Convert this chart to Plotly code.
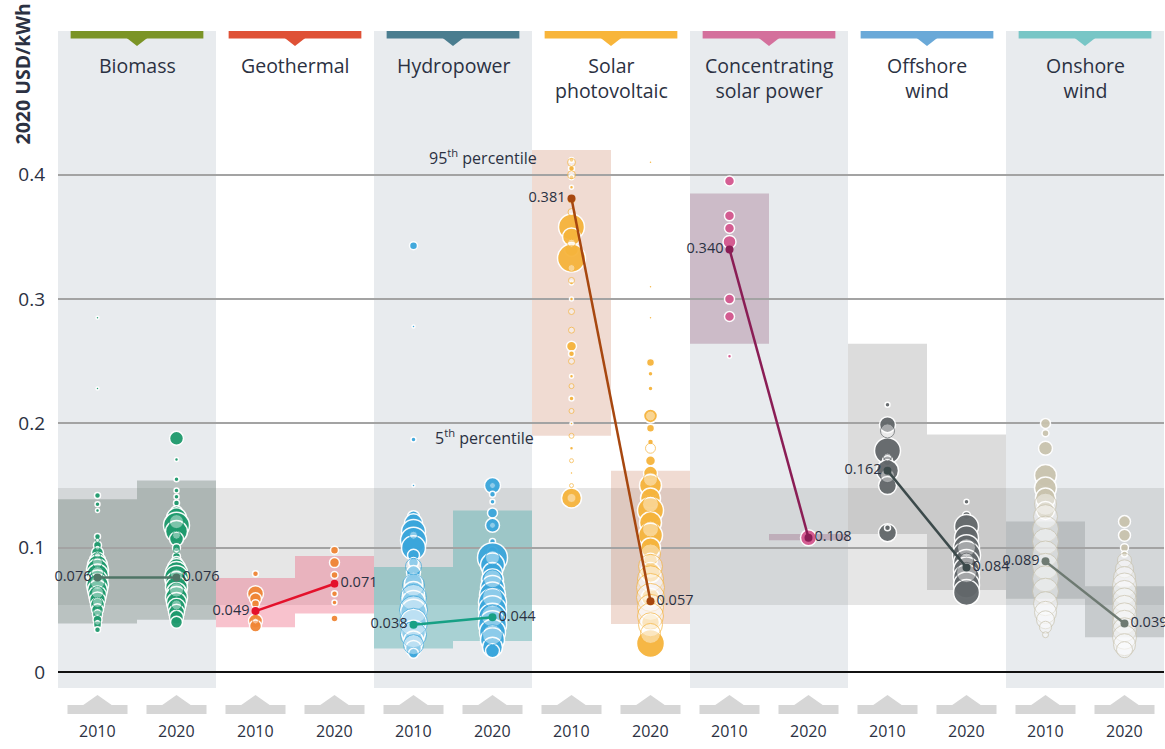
import plotly.graph_objects as go

# ---------------- data ----------------
tech_labels = ["Biomass", "Geothermal", "Hydropower", "Solar<br>photovoltaic",
               "Concentrating<br>solar power", "Offshore<br>wind", "Onshore<br>wind"]
year_labels = ["2010", "2020"]

avg_2010 = [0.076, 0.049, 0.038, 0.381, 0.340, 0.162, 0.089]
avg_2020 = [0.076, 0.071, 0.044, 0.057, 0.108, 0.084, 0.039]

p5_2010 = [0.039, 0.036, 0.019, 0.190, 0.264, 0.111, 0.059]
p95_2010 = [0.139, 0.0756, 0.0845, 0.420, 0.385, 0.264, 0.121]
p5_2020 = [0.042, 0.047, 0.025, 0.0386, 0.106, 0.066, 0.028]
p95_2020 = [0.154, 0.0933, 0.130, 0.162, 0.111, 0.191, 0.069]

fossil_low = 0.054
fossil_high = 0.148

# project bubbles: (LCOE, bubble diameter by capacity)
biomass_2010 = [(0.285, 3), (0.228, 3), (0.142, 6), (0.135, 5), (0.130, 4), (0.109, 6), (0.102, 8),
                (0.096, 12), (0.090, 16), (0.086, 20), (0.082, 22), (0.078, 22), (0.074, 20),
                (0.070, 22), (0.066, 20), (0.062, 18), (0.058, 16), (0.054, 14), (0.050, 12),
                (0.046, 10), (0.042, 9), (0.038, 8), (0.034, 6)]
biomass_2010_other = [(0.106, 4), (0.100, 5), (0.094, 6), (0.088, 10), (0.080, 12), (0.072, 14),
                      (0.064, 12), (0.056, 10), (0.048, 8), (0.040, 6)]
biomass_2020 = [(0.188, 14), (0.171, 4), (0.155, 5), (0.146, 5), (0.141, 5), (0.136, 6), (0.129, 12),
                (0.124, 20), (0.118, 26), (0.113, 22), (0.107, 14), (0.100, 8), (0.093, 8),
                (0.088, 12), (0.084, 18), (0.080, 22), (0.076, 24), (0.072, 22), (0.068, 22),
                (0.064, 20), (0.060, 22), (0.056, 20), (0.052, 18), (0.048, 16), (0.044, 14),
                (0.040, 12)]
biomass_2020_other = [(0.121, 14), (0.110, 8), (0.098, 6), (0.078, 12), (0.066, 14), (0.054, 10)]

geothermal_2010 = [(0.079, 6), (0.063, 16), (0.059, 12), (0.055, 8), (0.050, 6), (0.045, 6),
                   (0.041, 14), (0.037, 12)]
geothermal_2010_other = [(0.041, 6)]
geothermal_2020 = [(0.098, 8), (0.088, 10), (0.078, 7), (0.071, 7), (0.063, 6), (0.056, 5), (0.043, 7)]
geothermal_2020_other = []

hydro_2010 = [(0.343, 8), (0.278, 3), (0.187, 5), (0.150, 3), (0.125, 12), (0.120, 18), (0.113, 24),
              (0.106, 26), (0.100, 24), (0.094, 12), (0.088, 10), (0.080, 14), (0.072, 18),
              (0.064, 22), (0.056, 24), (0.048, 26), (0.040, 26), (0.032, 24), (0.025, 20),
              (0.019, 16), (0.015, 10)]
hydro_2010_other = [(0.110, 8), (0.085, 16), (0.070, 22), (0.060, 26), (0.050, 28), (0.040, 28),
                    (0.030, 26), (0.022, 20)]
hydro_2020 = [(0.150, 16), (0.143, 6), (0.137, 5), (0.128, 10), (0.118, 14), (0.105, 6), (0.097, 10),
              (0.092, 30), (0.086, 24), (0.080, 20), (0.074, 22), (0.068, 24), (0.062, 26),
              (0.056, 28), (0.050, 28), (0.044, 28), (0.038, 28), (0.032, 26), (0.026, 24),
              (0.020, 20), (0.017, 14)]
hydro_2020_other = [(0.150, 6), (0.118, 6), (0.092, 14), (0.075, 18), (0.060, 20), (0.045, 22),
                    (0.030, 20)]

solar_2010 = [(0.412, 5), (0.405, 6), (0.398, 5), (0.390, 4), (0.358, 26), (0.350, 18), (0.340, 14),
              (0.333, 28), (0.313, 4), (0.300, 4), (0.262, 10), (0.256, 6), (0.238, 4), (0.220, 5),
              (0.200, 3), (0.180, 4), (0.160, 3), (0.140, 20)]
solar_2010_other = [(0.410, 8), (0.400, 8), (0.380, 7), (0.370, 7), (0.345, 8), (0.325, 7),
                    (0.315, 6), (0.290, 6), (0.275, 6), (0.250, 6), (0.230, 5), (0.210, 5),
                    (0.190, 5), (0.170, 4), (0.150, 4), (0.140, 9)]
solar_2020 = [(0.410, 3), (0.310, 3), (0.285, 3), (0.249, 8), (0.240, 5), (0.228, 5), (0.206, 14),
              (0.196, 8), (0.185, 6), (0.170, 10), (0.160, 14), (0.150, 22), (0.140, 20),
              (0.130, 26), (0.120, 22), (0.110, 24), (0.100, 20), (0.090, 14), (0.080, 20),
              (0.060, 18), (0.040, 18), (0.023, 28)]
solar_2020_other = [(0.206, 10), (0.180, 10), (0.155, 14), (0.135, 16), (0.115, 16), (0.095, 20),
                    (0.085, 24), (0.075, 26), (0.068, 28), (0.060, 28), (0.052, 26), (0.045, 26),
                    (0.038, 24), (0.031, 20)]

csp_2010 = [(0.395, 10), (0.367, 10), (0.357, 10), (0.346, 13), (0.300, 10), (0.286, 10), (0.254, 4)]
csp_2010_other = []
csp_2020 = [(0.108, 16)]
csp_2020_other = []

offshore_2010 = [(0.215, 5), (0.199, 16), (0.178, 26), (0.170, 10), (0.162, 22), (0.150, 18),
                 (0.112, 18), (0.116, 6)]
offshore_2010_other = [(0.194, 14), (0.173, 8), (0.158, 14)]
offshore_2020 = [(0.137, 5), (0.126, 8), (0.117, 24), (0.108, 24), (0.100, 26), (0.094, 28),
                 (0.088, 26), (0.082, 26), (0.076, 26), (0.070, 26), (0.064, 26)]
offshore_2020_other = [(0.100, 18), (0.090, 14), (0.085, 8), (0.080, 20)]

onshore_2010 = [(0.200, 10), (0.192, 7), (0.180, 14), (0.158, 22), (0.148, 22), (0.140, 20),
                (0.130, 18)]
onshore_2010_other = [(0.135, 22), (0.125, 24), (0.115, 26), (0.105, 26), (0.095, 26), (0.085, 26),
                      (0.075, 26), (0.065, 26), (0.055, 24), (0.048, 22), (0.042, 18), (0.036, 12),
                      (0.030, 6)]
onshore_2020 = [(0.121, 12), (0.110, 12), (0.100, 8), (0.095, 6)]
onshore_2020_other = [(0.090, 14), (0.083, 18), (0.076, 22), (0.070, 24), (0.064, 24), (0.058, 24),
                      (0.052, 24), (0.046, 24), (0.040, 24), (0.034, 24), (0.028, 24), (0.022, 22),
                      (0.018, 16)]

projects = [
    (biomass_2010, biomass_2010_other, biomass_2020, biomass_2020_other),
    (geothermal_2010, geothermal_2010_other, geothermal_2020, geothermal_2020_other),
    (hydro_2010, hydro_2010_other, hydro_2020, hydro_2020_other),
    (solar_2010, solar_2010_other, solar_2020, solar_2020_other),
    (csp_2010, csp_2010_other, csp_2020, csp_2020_other),
    (offshore_2010, offshore_2010_other, offshore_2020, offshore_2020_other),
    (onshore_2010, onshore_2010_other, onshore_2020, onshore_2020_other),
]

# ---------------- styles ----------------
header_colors = ["#7b9426", "#df5136", "#4a7d8f", "#f8b53a", "#d4709c", "#6aa9d8", "#78c6c6"]
bubble_colors = ["#1e9a6d", "#f08636", "#3aa6dc", "#f6b43c", "#d4578f", "#62676a", "#c9c3ae"]
line_colors = ["#4f7466", "#e4112b", "#17a085", "#a7470f", "#8a1d55", "#3c4a4b", "#6e7a72"]
box_colors = ["rgba(110,128,122,0.38)", "rgba(238,110,135,0.42)", "rgba(90,178,178,0.45)",
              "rgba(205,135,105,0.30)", "rgba(150,90,125,0.33)", "rgba(140,140,140,0.30)",
              "rgba(140,146,146,0.36)"]
TXT = "#2b3142"
FONT = "Open Sans"

W, H = 1165, 749
L_MARGIN = 58
Y0_PX = 672.0
PX_PER_UNIT = 1243.0


def vy(px):
    return (Y0_PX - px) / PX_PER_UNIT


fig = go.Figure()
shapes = []
annotations = []

# column backgrounds
for i in range(len(tech_labels)):
    if i % 2 == 0:
        shapes.append(dict(type="rect", xref="x", yref="y", x0=2 * i - 0.5, x1=2 * i + 1.5,
                           y0=vy(688), y1=vy(31), fillcolor="#e8ebee", line_width=0, layer="below"))

# fossil fuel band
shapes.append(dict(type="rect", xref="x", yref="y", x0=-0.5, x1=13.5, y0=fossil_low, y1=fossil_high,
                   fillcolor="rgba(150,150,150,0.24)", line_width=0, layer="below"))

# percentile boxes
for i in range(len(tech_labels)):
    for j, (lo, hi) in enumerate([(p5_2010[i], p95_2010[i]), (p5_2020[i], p95_2020[i])]):
        k = 2 * i + j
        shapes.append(dict(type="rect", xref="x", yref="y", x0=k - 0.5, x1=k + 0.5, y0=lo, y1=hi,
                           fillcolor=box_colors[i], line_width=0, layer="below"))

# header bars + triangles + labels
for i, lab in enumerate(tech_labels):
    c = 2 * i + 0.5
    shapes.append(dict(type="rect", xref="x", yref="y", x0=c - 0.84, x1=c + 0.84, y0=vy(38.5), y1=vy(31),
                       fillcolor=header_colors[i], line_width=0))
    shapes.append(dict(type="path", xref="x", yref="y",
                       path=f"M {c - 0.13} {vy(38)} L {c + 0.13} {vy(38)} L {c} {vy(46)} Z",
                       fillcolor=header_colors[i], line_width=0))
    annotations.append(dict(x=c, y=vy(50), xref="x", yref="y", text=lab, showarrow=False,
                            xanchor="center", yanchor="top", align="center",
                            font=dict(family=FONT, size=19.5, color=TXT)))

# bottom year markers
for k in range(14):
    shapes.append(dict(type="rect", xref="x", yref="y", x0=k - 0.38, x1=k + 0.38, y0=vy(714), y1=vy(705),
                       fillcolor="#d6d6d6", line_width=0))
    shapes.append(dict(type="path", xref="x", yref="y",
                       path=f"M {k - 0.18} {vy(705)} L {k + 0.18} {vy(705)} L {k} {vy(695)} Z",
                       fillcolor="#d6d6d6", line_width=0))
    annotations.append(dict(x=k, y=vy(731), xref="x", yref="y", text=year_labels[k % 2], showarrow=False,
                            xanchor="center", yanchor="middle",
                            font=dict(family=FONT, size=16, color=TXT)))

# bubbles
for i, (a, a_o, b, b_o) in enumerate(projects):
    col = bubble_colors[i]
    for k, solid, other in [(2 * i, a, a_o), (2 * i + 1, b, b_o)]:
        if solid:
            fig.add_trace(go.Scatter(
                x=[k] * len(solid), y=[p[0] for p in solid], mode="markers", hoverinfo="y",
                marker=dict(size=[p[1] for p in solid], color=col, opacity=0.95,
                            line=dict(color="white", width=1.5)),
                showlegend=False))
        if other:
            fig.add_trace(go.Scatter(
                x=[k] * len(other), y=[p[0] for p in other], mode="markers", hoverinfo="y",
                marker=dict(size=[p[1] for p in other], color="rgba(255,255,255,0.6)",
                            line=dict(color=col, width=1)),
                showlegend=False))

# weighted averages
for i in range(len(tech_labels)):
    fig.add_trace(go.Scatter(
        x=[2 * i, 2 * i + 1], y=[avg_2010[i], avg_2020[i]], mode="lines+markers+text",
        line=dict(color=line_colors[i], width=2.5),
        marker=dict(size=8, color=line_colors[i]),
        text=[f"{avg_2010[i]:.3f}", f"{avg_2020[i]:.3f}"],
        textposition=["middle left", "middle right"],
        textfont=dict(family=FONT, size=14.5, color=TXT),
        cliponaxis=False, showlegend=False))

# text annotations
annotations.append(dict(x=4.88, y=vy(157), xref="x", yref="y", text="95<sup>th</sup> percentile",
                        showarrow=False, xanchor="center", yanchor="middle",
                        font=dict(family=FONT, size=16, color=TXT)))
annotations.append(dict(x=4.9, y=vy(437), xref="x", yref="y", text="5<sup>th</sup> percentile",
                        showarrow=False, xanchor="center", yanchor="middle",
                        font=dict(family=FONT, size=16, color=TXT)))
annotations.append(dict(x=-0.51, y=vy(467), xref="x", yref="y", text="Fossil fuel<br>cost range",
                        showarrow=False, xanchor="left", yanchor="middle", align="left",
                        font=dict(family=FONT, size=15.5, color=TXT)))
annotations.append(dict(x=(22 - L_MARGIN) / (W - L_MARGIN - 1), y=vy(147), xref="paper", yref="y",
                        text="<b>2020 USD/kWh</b>",
                        showarrow=False, textangle=-90, xanchor="center", yanchor="bottom",
                        font=dict(family=FONT, size=19.5, color=TXT)))

fig.update_layout(
    width=W, height=H,
    margin=dict(l=L_MARGIN, r=1, t=0, b=0),
    paper_bgcolor="white", plot_bgcolor="white",
    shapes=shapes, annotations=annotations,
    xaxis=dict(range=[-0.5, 13.5], visible=False, fixedrange=True),
    yaxis=dict(range=[vy(749), vy(0)], tickvals=[0, 0.1, 0.2, 0.3, 0.4],
               ticktext=["0", "0.1", "0.2", "0.3", "0.4"],
               showgrid=True, gridcolor="#a3a3a3", gridwidth=2,
               zeroline=True, zerolinecolor="#111111", zerolinewidth=2,
               ticks="", ticklabelstandoff=12,
               tickfont=dict(family=FONT, size=19, color=TXT), fixedrange=True),
    showlegend=False,
)

fig.write_html("out.html", config={"displayModeBar": False},
               post_script="document.body.style.margin='0';document.body.style.overflow='hidden';")
